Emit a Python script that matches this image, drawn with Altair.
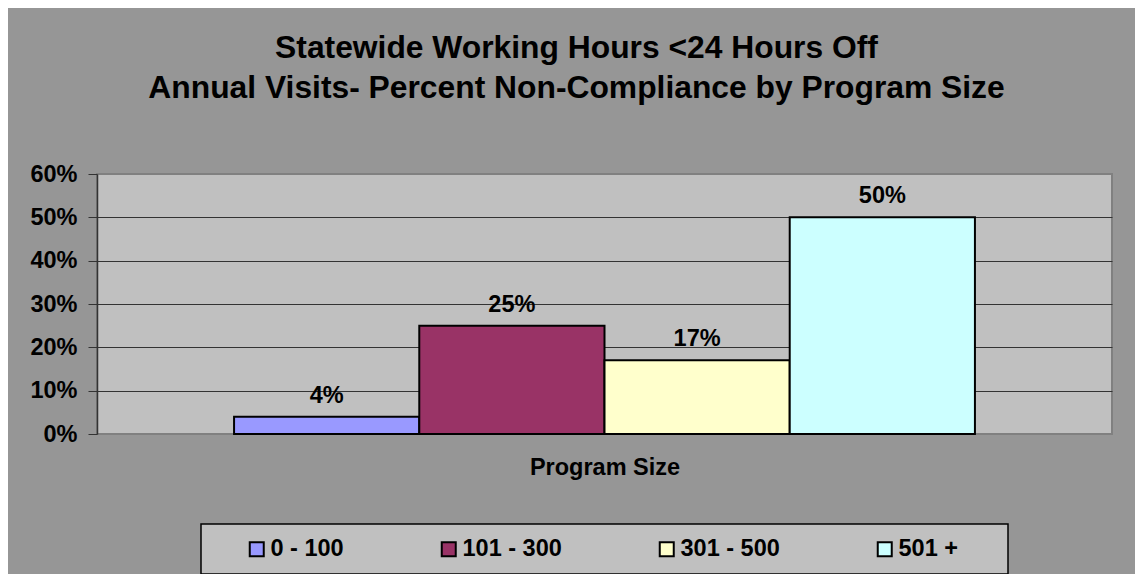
import altair as alt
import pandas as pd

# ---- data ----
series = ["0 - 100", "101 - 300", "301 - 500", "501 +"]
values = [0.04, 0.25, 0.17, 0.50]
colors = ["#9999FF", "#993366", "#FFFFCC", "#CCFFFF"]
title_lines = ["Statewide Working Hours <24 Hours Off",
               "Annual Visits- Percent Non-Compliance by Program Size"]
x_title = "Program Size"
y_ticks = [0, 0.1, 0.2, 0.3, 0.4, 0.5, 0.6]

df = pd.DataFrame({"size": series, "pct": values})

FONT = "Liberation Sans"
PW, PH = 1015, 260

x_enc = alt.X(
    "size:N",
    sort=series,
    scale=alt.Scale(paddingInner=0, paddingOuter=0.74),
    axis=alt.Axis(labels=False, ticks=False, domain=False, title=x_title,
                  titleFont=FONT, titleFontSize=23.5, titleFontWeight="bold",
                  titleColor="#000000", titlePadding=21),
)

bars = alt.Chart(df).mark_bar(stroke="#000000", strokeWidth=2).encode(
    x=x_enc,
    y=alt.Y(
        "pct:Q",
        scale=alt.Scale(domain=[0, 0.6], nice=False),
        axis=alt.Axis(
            values=y_ticks, format=".0%", title=None,
            labelFont=FONT, labelFontSize=23.5, labelFontWeight="bold",
            labelColor="#000000", labelPadding=11,
            tickSize=9, tickColor="#333333", tickWidth=1,
            domainColor="#333333", domainWidth=1.5,
            grid=True, gridWidth=1,
            gridColor=alt.condition("datum.value <= 0.001 || datum.value >= 0.59",
                                    alt.value("transparent"), alt.value("#333333")),
        ),
    ),
    fill=alt.Fill(
        "size:N",
        sort=series,
        scale=alt.Scale(domain=series, range=colors),
        legend=alt.Legend(
            # an invisible title on the right gives the box an equal inset on both sides
            title=".", titleOrient="right", titleColor="transparent",
            titleFontSize=12, titlePadding=33,
            orient="none", direction="horizontal", columns=4,
            legendX=104, legendY=350,
            fillColor="#C0C0C0", strokeColor="#000000",
            padding=13, symbolType="square", symbolSize=196,
            symbolStrokeColor="#000000", symbolStrokeWidth=2,
            symbolOffset=31, columnPadding=62, labelOffset=2,
            labelFont=FONT, labelFontSize=23.5, labelFontWeight="bold",
            labelColor="#000000",
        ),
    ),
)

labels = alt.Chart(df).mark_text(
    dy=-21, font=FONT, fontSize=23.5, fontWeight="bold", color="#000000"
).encode(
    x=alt.X("size:N", sort=series),
    y=alt.Y("pct:Q"),
    text=alt.Text("pct:Q", format=".0%"),
)

chart = alt.layer(bars, labels).properties(
    width=PW,
    height=PH,
    background="#969696",
    padding={"left": 89, "top": 166, "right": 23, "bottom": 140},
    autosize=alt.AutoSizeParams(type="none"),
    title=alt.TitleParams(
        text=title_lines, font=FONT, fontSize=31.8, fontWeight="bold",
        color="#000000", anchor="middle", frame="group", dx=-28,
        offset=57, lineHeight=40,
    ),
).configure_view(
    fill="#C0C0C0", stroke="#808080", strokeWidth=2
).configure_legend(
    strokeWidth=1.5
)

chart.save("out.html", embed_options={"renderer": "svg", "actions": False})
